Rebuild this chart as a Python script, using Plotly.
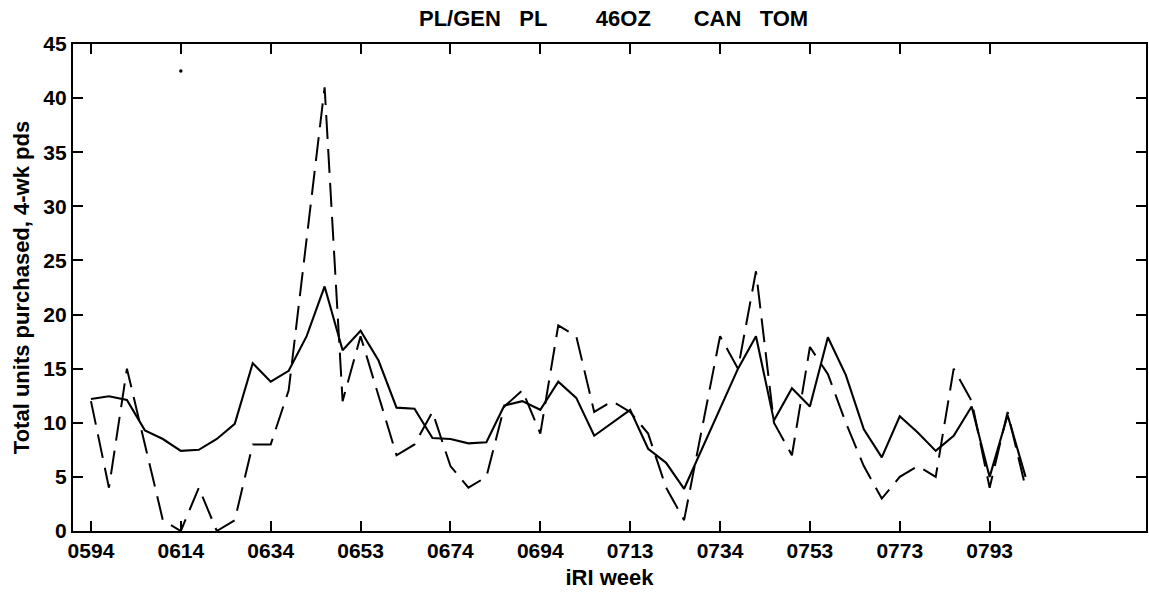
import plotly.graph_objects as go

week_labels = ["0594", "0614", "0634", "0653", "0674", "0694", "0713", "0734", "0753", "0773", "0793"]
period_index = list(range(53))
label_positions = list(range(0, 51, 5))

actual_units = [12.2, 12.45, 12.1, 9.3, 8.5, 7.4, 7.5, 8.5, 9.9, 15.5,
                13.8, 14.8, 18.0, 22.6, 16.7, 18.5, 15.75, 11.4, 11.3, 8.6,
                8.5, 8.1, 8.2, 11.6, 12.0, 11.2, 13.8, 12.3, 8.8, 10.0,
                11.2, 7.6, 6.3, 3.9, 7.6, 11.3, 15.0, 18.0, 10.2, 13.2,
                11.5, 17.9, 14.4, 9.4, 6.8, 10.6, 9.1, 7.4, 8.8, 11.5,
                5.0, 10.7, 5.0]

model_units = [12, 4, 15, 8, 1, 0, 4, 0, 1, 8,
               8, 13, 27, 41, 12, 18, 12.5, 7, 8, 11,
               6, 4, 5, 11.5, 13, 9, 19, 18, 11, 12,
               11, 9, 4, 1, 9.5, 18, 15, 24, 10, 7,
               17, 14.5, 10, 6, 3, 5, 6, 5, 15, 12,
               4, 11, 4]

stray_mark_x = [5]
stray_mark_y = [42.5]

title_text = "PL/GEN   PL" + " " * 8 + "46OZ" + " " * 7 + "CAN   TOM"

fig = go.Figure()
fig.add_trace(go.Scatter(x=period_index, y=model_units, mode="lines",
                         line=dict(color="black", width=2, dash="24px,10px"),
                         showlegend=False))
fig.add_trace(go.Scatter(x=period_index, y=actual_units, mode="lines",
                         line=dict(color="black", width=2.1),
                         showlegend=False))
fig.add_trace(go.Scatter(x=stray_mark_x, y=stray_mark_y, mode="markers",
                         marker=dict(color="black", size=3.5),
                         showlegend=False))

fam = "Liberation Sans, Arial, sans-serif"
tick_font = dict(family=fam, size=21, color="black", weight="bold")
label_font = dict(family=fam, size=22, color="black", weight="bold")

fig.update_layout(
    width=1149, height=594,
    margin=dict(l=73, r=1, t=44, b=63),
    paper_bgcolor="white", plot_bgcolor="white",
    font=tick_font,
    title=dict(text=title_text, x=0.534, xanchor="center",
               yref="container", y=0.982, yanchor="top",
               font=dict(size=22, weight="bold", family=fam, color="black")),
)
fig.update_xaxes(range=[-1, 58.7], tickvals=label_positions, ticktext=week_labels,
                 showgrid=False, zeroline=False, showline=True, linecolor="black", linewidth=2.2,
                 mirror="ticks", ticks="inside", ticklen=10, tickwidth=2, tickcolor="black",
                 title=dict(text="iRI week", standoff=8, font=label_font), tickfont=tick_font)
fig.update_yaxes(range=[0, 45], dtick=5, showgrid=False, zeroline=False, showline=True,
                 linecolor="black", linewidth=2.2, mirror="ticks", ticks="inside", ticklen=10,
                 tickwidth=2, tickcolor="black",
                 title=dict(text="Total units purchased, 4-wk pds", standoff=8, font=label_font),
                 tickfont=tick_font)

fig.write_html("out.html")
